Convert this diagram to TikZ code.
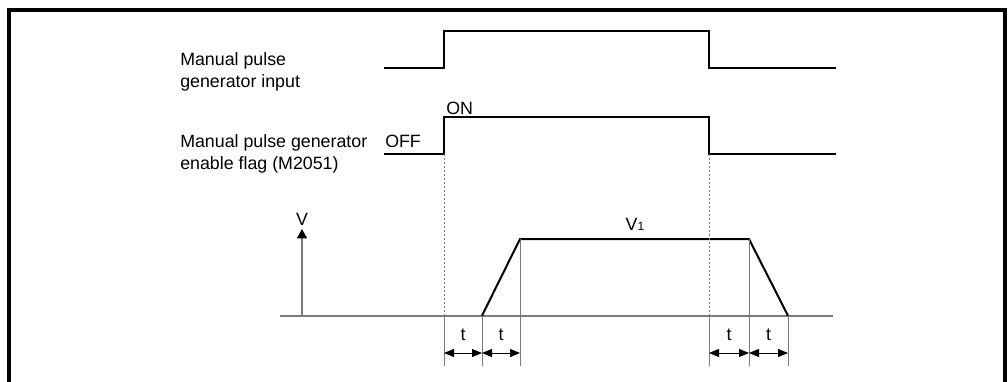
\documentclass[tikz,border=0pt]{standalone}
\usepackage{fontspec}
\setmainfont{Liberation Sans}
\usetikzlibrary{arrows.meta,calc}
\definecolor{ink}{HTML}{000000}
\definecolor{guidegray}{HTML}{7A7A7A}
\tikzset{
  signal/.style={line width=1.5pt, ink, line join=miter},
  guide/.style={line width=0.75pt, guidegray},
  dotguide/.style={line width=0.75pt, guidegray, dash pattern=on 1.5pt off 1.5pt},
  axisline/.style={line width=1.3pt, guidegray},
  txt/.style={inner sep=0pt, font=\fontsize{13.35}{16.3}\selectfont, align=left},
  span/.style={line width=0.75pt, ink, {Triangle[length=7.5pt,width=6pt]}-{Triangle[length=7.5pt,width=6pt]}},
}

\begin{document}
\begin{tikzpicture}[x=0.75pt, y=-0.75pt]
  \useasboundingbox (0,0) rectangle (1008,382);
  % frame, open at the bottom
  \draw[line width=3pt, ink] (9,382) -- (9,9.5) -- (1005,9.5) -- (1005,382);

  % signal labels
  \node[txt, anchor=base west] (inlbl) at (180,87.3) {Manual pulse\\generator input};
  \node[txt, anchor=base west] (fllbl) at (180,169) {Manual pulse generator\\enable flag (M2051)};
  \node[txt, anchor=base west] (off) at (385,147) {OFF};
  \node[txt, anchor=base west] (on) at (446,114) {ON};

  % manual pulse generator input
  \coordinate (in0) at (384,68);
  \coordinate (in1) at (444,68);
  \coordinate (in2) at (444,31);
  \coordinate (in3) at (709,31);
  \coordinate (in4) at (709,68);
  \coordinate (in5) at (836,68);
  \draw[signal] (in0) -- (in1) -- (in2) -- (in3) -- (in4) -- (in5);

  % enable flag
  \coordinate (fl0) at (384,154);
  \coordinate (fl1) at (444,154);
  \coordinate (fl2) at (444,117);
  \coordinate (fl3) at (709,117);
  \coordinate (fl4) at (709,154);
  \coordinate (fl5) at (836,154);
  \draw[signal] (fl0) -- (fl1) -- (fl2) -- (fl3) -- (fl4) -- (fl5);

  % speed axis
  \coordinate (ax0) at (280,315.7);
  \coordinate (ax1) at (833,315.7);
  \draw[axisline] (ax0) -- (ax1);
  \coordinate (vb) at (302,315.7);
  \coordinate (vt) at (302,229);
  \draw[axisline, line width=1pt, -{Triangle[length=7pt,width=7.5pt,color=ink]}] (vb) -- (vt);
  \node[txt, anchor=south] (vlbl) at (302,226) {V};

  % speed profile
  \coordinate (p0) at (482,315.7);
  \coordinate (p1) at (520,239);
  \coordinate (p2) at (749,239);
  \coordinate (p3) at (788,315.7);
  \draw[signal] (p0) -- (p1) -- (p2) -- (p3);
  \node[txt, anchor=base] (v1) at (635,230.7) {V{\fontsize{9}{9}\selectfont 1}};

  % timing guides
  \draw[dotguide] (fl1) -- (444,315.7);
  \draw[dotguide] (fl4) -- (709,315.7);
  \foreach \xg/\yg in {444/315.7, 482/315.7, 520/239, 709/315.7, 749/239, 788/315.7}
    \draw[guide] (\xg,\yg) -- (\xg,366);

  % time spans
  \foreach \xa/\xb [count=\i] in {444/482, 482/520, 709/749, 749/788} {
    \coordinate (s\i a) at (\xa,353);
    \coordinate (s\i b) at (\xb,353);
    \draw[span] (s\i a) -- (s\i b);
    \node[txt] (t\i) at ($(s\i a)!0.5!(s\i b)+(0,-18)$) {t};
  }
\end{tikzpicture}
\end{document}
